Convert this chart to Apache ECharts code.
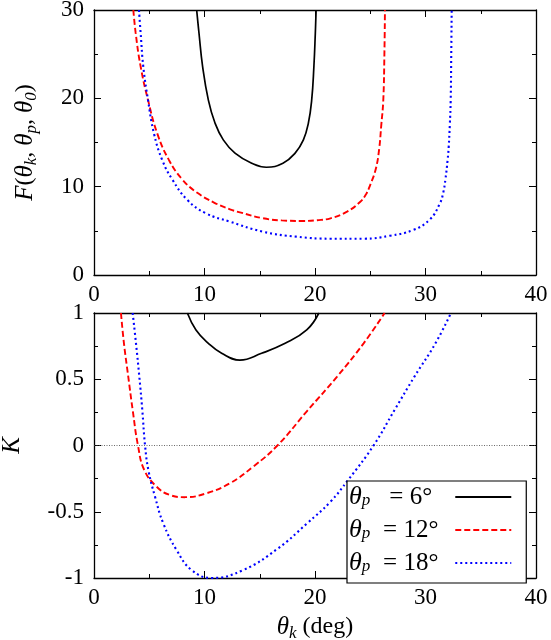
<!DOCTYPE html>
<html>
<head>
<meta charset="utf-8">
<script src="https://cdn.jsdelivr.net/npm/echarts@6/dist/echarts.min.js"></script>
<style>
html,body{margin:0;padding:0;background:#fff;}
#c{width:551px;height:640px;}
</style>
</head>
<body>
<div id="c"></div>
<script>
// ---- data ----
var seriesNames = ['θp = 6°', 'θp = 12°', 'θp = 18°'];
var legendAngles = ['6°', '12°', '18°'];

// Top panel: F(θk, θp, θ0) vs θk
var F6 = [[9.29,30],[9.5,27.4],[9.83,23.6],[10.35,19.8],[10.95,17.2],[11.7,15.3],[12.76,13.8],[14.27,12.65],[15.6,12.2],[17.1,12.65],[18.2,13.8],[18.95,15.3],[19.4,17.2],[19.7,19.8],[19.9,23.6],[20.03,27.4],[20.1,30]];
var F12 = [[3.56,30],[3.77,27.4],[4.22,23.6],[4.89,19.8],[5.73,16],[6.79,13],[8.0,10.8],[9.35,9.3],[10.86,8.2],[12.3,7.44],[13.3,7.06],[15.3,6.42],[17,6.18],[18.9,6.12],[20.2,6.2],[21.4,6.42],[22.9,7.17],[24.1,8.3],[24.6,9.1],[25.0,10.2],[25.5,12],[25.8,14.2],[26.0,17],[26.18,19.8],[26.28,25],[26.33,30]];
var F18 = [[4.07,30],[4.22,27.4],[4.46,23.6],[4.89,19.8],[5.43,16],[6.18,13],[7.09,10.8],[8.45,8.5],[10.1,7.0],[12.3,6.04],[15.3,4.9],[18.3,4.34],[21.4,4.11],[24.4,4.11],[26.8,4.45],[28.9,5.1],[30.4,6.3],[31.3,8.1],[31.6,9.3],[31.8,10.8],[32.0,13],[32.1,14.5],[32.2,17],[32.28,19.8],[32.33,25],[32.37,30]];

// Bottom panel: K vs θk
var K6 = [[8.45,1],[9.23,0.872],[10.35,0.771],[11.55,0.696],[13.2,0.645],[15.17,0.696],[17.3,0.771],[19.25,0.872],[20.35,1]];
var K12 = [[2.44,1],[2.71,0.771],[3.1,0.52],[3.5,0.268],[3.98,0],[4.55,-0.185],[5.67,-0.311],[6.88,-0.374],[8.24,-0.39],[10.2,-0.36],[12.3,-0.285],[14.4,-0.16],[16.6,0],[19.3,0.262],[22.0,0.52],[24.4,0.771],[26.3,1]];
var K18 = [[3.5,1],[3.8,0.771],[4.1,0.52],[4.37,0.268],[4.62,0],[4.92,-0.185],[5.52,-0.386],[6.28,-0.59],[7.48,-0.79],[8.84,-0.94],[10.65,-1.0],[13.5,-0.94],[16.6,-0.78],[19.25,-0.59],[21.4,-0.424],[23.0,-0.26],[25.3,0],[27.2,0.268],[29.0,0.52],[30.9,0.771],[32.3,1]];
var zeroLine = [[0,0],[40,0]];

var xRange = [0, 40], xStep = 10;
var fRange = [0, 30], fStep = 10;
var kRange = [-1, 1], kStep = 0.5;

// ---- styles ----
var SERIF = 'Liberation Serif';
var colors = ['#000000', '#ff0000', '#0000ff'];
var lineTypes = ['solid', [6, 3], [2, 3]];
var widths = [1.7, 1.9, 2.1];

var axisLine = {show: true, onZero: false, lineStyle: {color: '#000', width: 1.3}};
var richName = {
  i: {fontStyle: 'italic', fontFamily: SERIF, fontSize: 25, lineHeight: 30, verticalAlign: 'middle', color: '#000'},
  s: {fontStyle: 'italic', fontFamily: SERIF, fontSize: 17, lineHeight: 30, verticalAlign: 'bottom', color: '#000'},
  n: {fontFamily: SERIF, fontSize: 24, lineHeight: 30, verticalAlign: 'middle', color: '#000'}
};
function xAx(grid, pos, labels, name) {
  return {
    type: 'value', gridIndex: grid, position: pos, min: xRange[0], max: xRange[1], interval: xStep,
    axisLine: axisLine,
    axisTick: {show: true, inside: true, length: 7, lineStyle: {color: '#000', width: 1}},
    minorTick: {show: true, splitNumber: 2, length: 4, lineStyle: {color: '#000', width: 1}},
    splitLine: {show: false},
    axisLabel: {show: labels, margin: 12, color: '#000', fontFamily: SERIF, fontSize: 23, lineHeight: 16,
      showMinLabel: true, showMaxLabel: true, hideOverlap: false},
    name: name || '', nameLocation: 'middle', nameGap: 34, nameMoveOverlap: false,
    nameTextStyle: {color: '#000', fontFamily: SERIF, fontSize: 23, rich: richName}
  };
}
function yAx(grid, pos, range, step, labels, name, gap) {
  return {
    type: 'value', gridIndex: grid, position: pos, min: range[0], max: range[1], interval: step,
    axisLine: axisLine,
    axisTick: {show: true, inside: true, length: 7, lineStyle: {color: '#000', width: 1}},
    minorTick: {show: true, splitNumber: 2, length: 4, lineStyle: {color: '#000', width: 1}},
    splitLine: {show: false},
    axisLabel: {show: labels, margin: 10, color: '#000', fontFamily: SERIF, fontSize: 23, lineHeight: 16,
      showMinLabel: true, showMaxLabel: true, hideOverlap: false},
    name: name || '', nameLocation: 'middle', nameGap: gap || 50, nameMoveOverlap: false,
    nameTextStyle: {color: '#000', fontFamily: SERIF, fontSize: 23, rich: richName}
  };
}

function lineSeries(name, data, i, xi, yi) {
  return {
    name: name, type: 'line', data: data, xAxisIndex: xi, yAxisIndex: yi,
    showSymbol: false, symbol: 'none', smooth: 0.45, clip: true, animation: false,
    lineStyle: {color: colors[i], type: lineTypes[i], width: widths[i]},
    itemStyle: {color: colors[i]}
  };
}

var chart = echarts.init(document.getElementById('c'), null, {renderer: 'canvas'});
chart.setOption({
  backgroundColor: '#fff',
  animation: false,
  grid: [
    {left: 94, right: 15, top: 10, height: 265, containLabel: false, outerBoundsMode: 'none'},
    {left: 94, right: 15, top: 313, height: 265, containLabel: false, outerBoundsMode: 'none'}
  ],
  xAxis: [
    xAx(0, 'bottom', true),
    xAx(0, 'top', false),
    xAx(1, 'bottom', true, '{i|θ}{s|k}{n| (deg)}'),
    xAx(1, 'top', false)
  ],
  yAxis: [
    yAx(0, 'left', fRange, fStep, true, '{i|F}{n|(}{i|θ}{s|k}{n|, }{i|θ}{s|p}{n|, }{i|θ}{s|0}{n|)}', 54),
    yAx(0, 'right', fRange, fStep, false),
    yAx(1, 'left', kRange, kStep, true, '{i|K}', 67),
    yAx(1, 'right', kRange, kStep, false)
  ],
  legend: {
    data: seriesNames,
    orient: 'vertical',
    left: 347, top: 481,
    align: 'right',
    backgroundColor: '#fff',
    borderColor: '#000', borderWidth: 1.2, borderRadius: 0,
    padding: [3, 14, 7, 2],
    itemGap: 7,
    itemWidth: 56, itemHeight: 22,
    selectedMode: false,
    itemStyle: {opacity: 0},
    formatter: function (name) {
      var idx = seriesNames.indexOf(name);
      return '{i|θ}{s|p}{n|= ' + legendAngles[idx] + '}';
    },
    textStyle: {
      color: '#000', fontFamily: SERIF, fontSize: 23,
      rich: {
        i: {fontStyle: 'italic', fontFamily: SERIF, fontSize: 26, lineHeight: 24, verticalAlign: 'middle'},
        s: {fontStyle: 'italic', fontFamily: SERIF, fontSize: 17, lineHeight: 24, verticalAlign: 'bottom', padding: [0, 1, 0, 0]},
        n: {fontFamily: SERIF, fontSize: 25, lineHeight: 24, verticalAlign: 'middle', width: 79, align: 'left'}
      }
    }
  },
  series: [
    lineSeries(seriesNames[0], F6, 0, 0, 0),
    lineSeries(seriesNames[1], F12, 1, 0, 0),
    lineSeries(seriesNames[2], F18, 2, 0, 0),
    {
      name: 'zero', type: 'line', data: zeroLine, xAxisIndex: 2, yAxisIndex: 2,
      showSymbol: false, symbol: 'none', silent: true,
      lineStyle: {color: '#444', type: [1, 1.5], width: 0.8}
    },
    lineSeries(seriesNames[0], K6, 0, 2, 2),
    lineSeries(seriesNames[1], K12, 1, 2, 2),
    lineSeries(seriesNames[2], K18, 2, 2, 2)
  ]
});
</script>
</body>
</html>
